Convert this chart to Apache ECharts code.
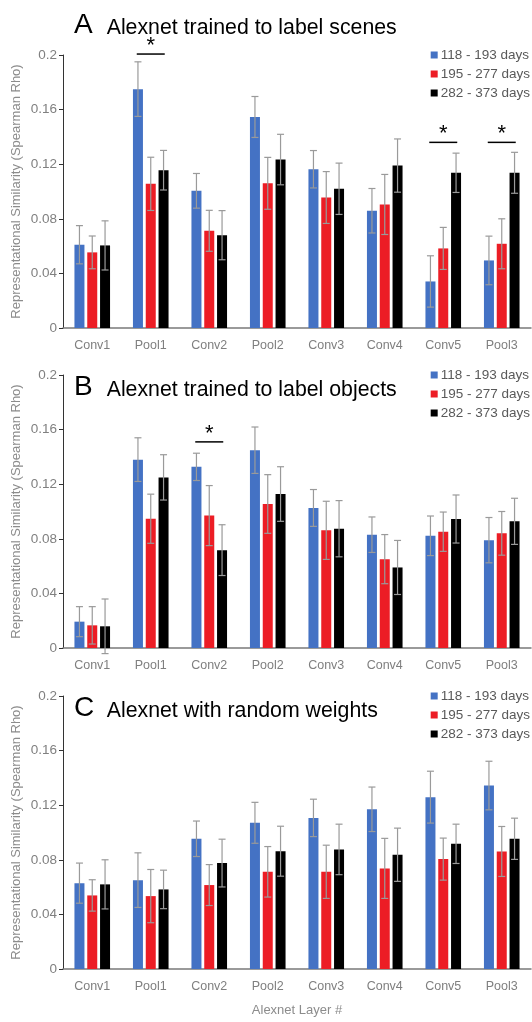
<!DOCTYPE html>
<html>
<head>
<meta charset="utf-8">
<script src="https://cdn.jsdelivr.net/npm/echarts@6/dist/echarts.min.js"></script>
<style>
  html, body { margin: 0; padding: 0; background: #fff; }
  #chart { width: 532px; height: 1022px; }
</style>
</head>
<body>
<div id="chart"></div>
<script>
// 网络层
const layers = ['Conv1', 'Pool1', 'Conv2', 'Pool2', 'Conv3', 'Conv4', 'Conv5', 'Pool3'];
const ageGroups = ['118 - 193 days', '195 - 277 days', '282 - 373 days'];
const ageColors = ['#4472C4', '#EC1D25', '#000000'];

// A: scenes
const scenesYoung = [0.061, 0.175, 0.1005, 0.1546, 0.1163, 0.0859, 0.0341, 0.0495];
const scenesYoungErr = [0.014, 0.020, 0.0127, 0.015, 0.0137, 0.0163, 0.0188, 0.0178];
const scenesMid = [0.0554, 0.1056, 0.0712, 0.106, 0.0956, 0.0905, 0.0583, 0.0617];
const scenesMidErr = [0.012, 0.0195, 0.015, 0.019, 0.019, 0.022, 0.0154, 0.0183];
const scenesOld = [0.0605, 0.1156, 0.068, 0.1234, 0.102, 0.119, 0.1137, 0.1137];
const scenesOldErr = [0.018, 0.0145, 0.018, 0.0185, 0.0188, 0.0195, 0.0144, 0.015];
const scenesSig = [[1, 0.2007], [6, 0.136], [7, 0.136]];

// B: objects
const objectsYoung = [0.0193, 0.138, 0.1327, 0.1449, 0.1026, 0.083, 0.0822, 0.079];
const objectsYoungErr = [0.011, 0.016, 0.010, 0.017, 0.0135, 0.013, 0.0145, 0.0166];
const objectsMid = [0.0166, 0.0947, 0.097, 0.1055, 0.0862, 0.0651, 0.0852, 0.084];
const objectsMidErr = [0.0137, 0.018, 0.022, 0.0215, 0.0213, 0.018, 0.0144, 0.016];
const objectsOld = [0.0159, 0.125, 0.0717, 0.1128, 0.0874, 0.059, 0.0945, 0.0928];
const objectsOldErr = [0.02, 0.0166, 0.0186, 0.02, 0.0206, 0.0198, 0.0176, 0.0169];
const objectsSig = [[2, 0.151]];

// C: random weights
const randomYoung = [0.0629, 0.0651, 0.0954, 0.1071, 0.1107, 0.117, 0.1259, 0.1344];
const randomYoungErr = [0.0147, 0.02, 0.013, 0.015, 0.0137, 0.0163, 0.019, 0.0178];
const randomMid = [0.0539, 0.0534, 0.0615, 0.0712, 0.0712, 0.0737, 0.0805, 0.0861];
const randomMidErr = [0.0115, 0.0195, 0.015, 0.0185, 0.0195, 0.022, 0.0154, 0.0183];
const randomOld = [0.062, 0.0583, 0.0776, 0.0863, 0.0876, 0.0837, 0.0917, 0.0954];
const randomOldErr = [0.018, 0.0141, 0.0175, 0.0183, 0.0185, 0.0195, 0.0144, 0.0151];
const randomSig = [];

const panels = [
  { letter: 'A', title: 'Alexnet trained to label scenes', top: 55, titleTop: 7, letterPad: 14,
    means: [scenesYoung, scenesMid, scenesOld], errs: [scenesYoungErr, scenesMidErr, scenesOldErr], sig: scenesSig },
  { letter: 'B', title: 'Alexnet trained to label objects', top: 375, titleTop: 369, letterPad: 14,
    means: [objectsYoung, objectsMid, objectsOld], errs: [objectsYoungErr, objectsMidErr, objectsOldErr], sig: objectsSig },
  { letter: 'C', title: 'Alexnet with random weights', top: 696, titleTop: 690, letterPad: 12.5,
    means: [randomYoung, randomMid, randomOld], errs: [randomYoungErr, randomMidErr, randomOldErr], sig: randomSig },
];

const FONT = 'Liberation Sans, Arial, sans-serif';
const BAR_W = 10;
const BAR_GAP = 0.28;
const PLOT_H = 273;

const chart = echarts.init(document.getElementById('chart'));

const grid = [], xAxis = [], yAxis = [], title = [], legend = [], series = [];

panels.forEach((p, i) => {
  grid.push({ left: 63, width: 468, top: p.top, height: PLOT_H, outerBoundsMode: 'none' });
  xAxis.push({
    type: 'category', gridIndex: i, data: layers,
    axisLine: { lineStyle: { color: '#7a7a7a', width: 1.5 } },
    axisTick: { show: false },
    axisLabel: { color: '#7f7f7f', fontSize: 12.5, fontFamily: FONT, margin: 11 },
    name: i === 2 ? 'Alexnet Layer #' : '',
    nameLocation: 'middle', nameGap: 35, nameMoveOverlap: false,
    nameTextStyle: { color: '#8c8c8c', fontSize: 13, fontFamily: FONT },
  });
  yAxis.push({
    type: 'value', gridIndex: i, min: 0, max: 0.2, interval: 0.04,
    axisLine: { show: true, lineStyle: { color: '#333', width: 1 } },
    axisTick: { show: true, length: 4, lineStyle: { color: '#333' } },
    splitLine: { show: false },
    axisLabel: { color: '#808080', fontSize: 13.5, fontFamily: FONT, margin: 6 },
    name: 'Representational Similarity (Spearman Rho)',
    nameLocation: 'middle', nameGap: 40, nameMoveOverlap: false,
    nameTextStyle: { color: '#8c8c8c', fontSize: 13, fontFamily: FONT },
  });
  title.push({
    left: 74, top: p.titleTop, padding: 0,
    text: '{l|' + p.letter + '}{t|' + p.title + '}',
    textStyle: {
      fontWeight: 'normal',
      rich: {
        l: { fontSize: 28, fontFamily: FONT, fontWeight: 'normal', color: '#000',
             padding: [0, p.letterPad, 0, 0], verticalAlign: 'bottom', lineHeight: 32 },
        t: { fontSize: 21.3, fontFamily: FONT, fontWeight: 'normal', color: '#000',
             verticalAlign: 'bottom', lineHeight: 28 },
      },
    },
  });
  legend.push({
    data: ageGroups, orient: 'vertical', right: 2, top: p.top - 7, padding: 0,
    icon: 'rect', itemWidth: 7, itemHeight: 7, itemGap: 5,
    textStyle: { color: '#595959', fontSize: 13.5, fontFamily: FONT, padding: [0, 0, 0, -2] },
  });

  // 柱子
  ageGroups.forEach((name, k) => {
    series.push({
      name, type: 'bar', xAxisIndex: i, yAxisIndex: i,
      data: p.means[k], barWidth: BAR_W, barGap: (BAR_GAP * 100) + '%',
      itemStyle: { color: ageColors[k] },
      emphasis: { disabled: true },
    });
  });

  // 误差线
  const errData = [];
  ageGroups.forEach((name, k) => {
    p.means[k].forEach((m, c) => {
      errData.push([c, m - p.errs[k][c], m + p.errs[k][c], k]);
    });
  });
  series.push({
    type: 'custom', xAxisIndex: i, yAxisIndex: i, z: 5,
    data: errData, encode: { x: 0, y: [1, 2] },
    renderItem(params, api) {
      const c = api.value(0), k = api.value(3);
      const hi = api.coord([c, api.value(2)]);
      const lo = api.coord([c, api.value(1)]);
      const x = hi[0] + (k - 1) * BAR_W * (1 + BAR_GAP);
      const cap = 3.5;
      const style = { stroke: '#9a9a9a', lineWidth: 1.2 };
      return {
        type: 'group',
        children: [
          { type: 'line', shape: { x1: x, y1: hi[1], x2: x, y2: lo[1] }, style },
          { type: 'line', shape: { x1: x - cap, y1: hi[1], x2: x + cap, y2: hi[1] }, style },
          { type: 'line', shape: { x1: x - cap, y1: lo[1], x2: x + cap, y2: lo[1] }, style },
        ],
      };
    },
  });

  // 显著性标记
  series.push({
    type: 'custom', xAxisIndex: i, yAxisIndex: i, z: 6, clip: false,
    data: p.sig, encode: { x: 0, y: 1 },
    renderItem(params, api) {
      const pt = api.coord([api.value(0), api.value(1)]);
      return {
        type: 'group',
        children: [
          { type: 'line', shape: { x1: pt[0] - 14, y1: pt[1], x2: pt[0] + 14, y2: pt[1] },
            style: { stroke: '#000', lineWidth: 1.5 } },
          { type: 'text', x: pt[0], y: pt[1] - 8,
            style: { text: '*', fill: '#000', fontSize: 22, fontFamily: FONT,
                     align: 'center', verticalAlign: 'middle' } },
        ],
      };
    },
  });
});

chart.setOption({
  animation: false,
  backgroundColor: '#fff',
  title, legend, grid, xAxis, yAxis, series,
});
</script>
</body>
</html>
